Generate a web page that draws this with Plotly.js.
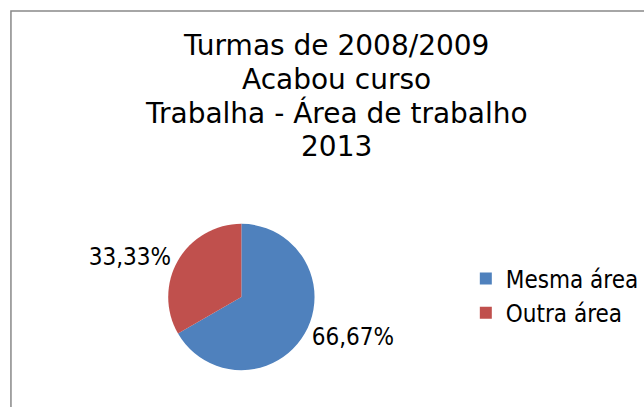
<!DOCTYPE html>
<html>
<head>
<meta charset="utf-8">
<script src="https://cdn.plot.ly/plotly-3.0.1.min.js"></script>
<style>html,body{margin:0;padding:0;background:#fff;}#chart{width:644px;height:407px;}</style>
</head>
<body>
<div id="chart"></div>
<script>
const titleLines = ["Turmas de 2008/2009", "Acabou curso", "Trabalha - Área de trabalho", "2013"];
const categories = ["Mesma área", "Outra área"];
const values = [66.67, 33.33];
const colors = ["#4F81BD", "#C0504D"];

const W = 644, H = 407;
const cx = 242.5, cy = 297, r = 73.5;
const FONT_C = "'DejaVu Sans Condensed', sans-serif";
const FONT_T = "'DejaVu Sans', sans-serif";

const trace = {
  type: "pie",
  labels: categories,
  values: values,
  marker: {colors: colors, line: {width: 0}},
  sort: false,
  direction: "clockwise",
  rotation: 0,
  textposition: "outside",
  texttemplate: "%{percent:.2%}",
  textfont: {family: FONT_C, size: 24, color: "#000"},
  domain: {x: [(cx - r) / W, (cx + r) / W], y: [(H - cy - r) / H, (H - cy + r) / H]},
  automargin: false,
  hoverinfo: "label+percent"
};

const annotations = titleLines.map((t, i) => ({
  text: t, showarrow: false,
  xref: "paper", yref: "paper",
  x: 338 / W, xanchor: "center",
  y: 1 - (45.5 + i * 33.7) / H, yanchor: "middle",
  font: {family: FONT_T, size: 28, color: "#000"}
}));

const layout = {
  width: W, height: H,
  margin: {l: 0, r: 0, t: 0, b: 0},
  paper_bgcolor: "#fff",
  separators: ", ",
  showlegend: true,
  font: {family: FONT_C, color: "#000"},
  annotations: annotations,
  legend: {
    x: 468 / W, xanchor: "left",
    y: 1 - 296 / H, yanchor: "middle",
    font: {family: FONT_C, size: 24, color: "#000"},
    bgcolor: "rgba(0,0,0,0)"
  },
  shapes: [{
    type: "rect", xref: "paper", yref: "paper",
    x0: 11 / W, x1: 1.05, y0: -0.05, y1: 1 - 11 / H,
    line: {color: "#898989", width: 1.5}
  }]
};

Plotly.newPlot("chart", [trace], layout, {displayModeBar: false, staticPlot: true});
</script>
</body>
</html>
